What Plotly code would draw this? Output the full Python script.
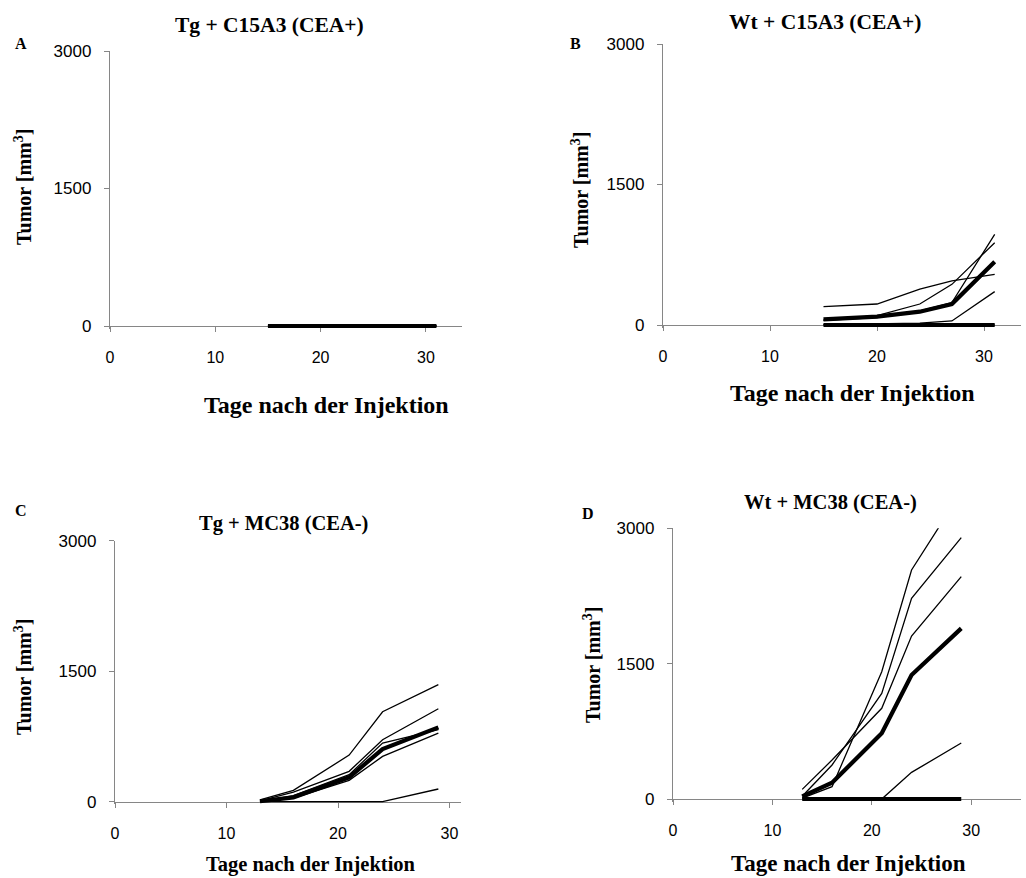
import plotly.graph_objects as go

W, H = 1026, 878

# ---------------- data ----------------
days_A = [15, 20, 24, 27, 31]
A_mice = [
    [0, 0, 0, 0, 0],
    [0, 0, 0, 0, 0],
    [0, 0, 0, 0, 0],
]
A_thick = [
    [0, 0, 0, 0, 0],
]

days_B = [15, 20, 24, 27, 31]
B_mice = [
    [196, 224, 384, 470, 541],
    [55, 100, 224, 434, 879],
    [50, 80, 150, 240, 968],
    [5, 10, 20, 43, 356],
    [0, 0, 0, 0, 0],
]
B_thick = [
    [60, 89, 142, 224, 676],
    [0, 0, 0, 0, 0],
]

days_C = [13, 16, 21, 24, 29]
C_mice = [
    [20, 130, 536, 1034, 1345],
    [10, 110, 349, 713, 1069],
    [0, 70, 310, 674, 828],
    [0, 42, 245, 521, 789],
    [0, 0, 0, 0, 146],
]
C_thick = [
    [5, 50, 280, 605, 854],
]

days_D = [13, 16, 21, 24, 29]
D_mice = [
    [10, 137, 1411, 2538, 3400],
    [107, 432, 1005, 1806, 2464],
    [30, 377, 1171, 2224, 2896],
    [0, 0, 0, 295, 620],
]
D_thick = [
    [30, 180, 728, 1374, 1891],
    [0, 0, 0, 0, 0],
]

titles = ["Tg + C15A3 (CEA+)", "Wt + C15A3 (CEA+)", "Tg + MC38 (CEA-)", "Wt + MC38 (CEA-)"]
letters = ["A", "B", "C", "D"]
y_title = "Tumor [mm<sup>3</sup>]"
x_title = "Tage nach der Injektion"
x_ticks = [0, 10, 20, 30]
y_ticks = [0, 1500, 3000]

# ---------------- layout geometry (pixels) ----------------
panels = [
    dict(days=days_A, mice=A_mice, thick=A_thick, x0=110, ppu=10.53, xmax=33.4, ytop=51, ybot=326,
         title=(269, 25, 21.5), letter=(21, 43), ytitle=(23, 187), xtitle=(326, 405, 24)),
    dict(days=days_B, mice=B_mice, thick=B_thick, x0=663, ppu=10.7, xmax=33.5, ytop=44, ybot=325,
         title=(825, 22, 21.5), letter=(575, 43), ytitle=(580, 190), xtitle=(852, 393, 24)),
    dict(days=days_C, mice=C_mice, thick=C_thick, x0=115, ppu=11.15, xmax=31, ytop=540.7, ybot=801.7,
         title=(283, 523, 20.5), letter=(21, 510), ytitle=(23, 677), xtitle=(311, 864, 20.5)),
    dict(days=days_D, mice=D_mice, thick=D_thick, x0=673, ppu=9.94, xmax=35, ytop=528.3, ybot=799,
         title=(830, 502, 20.5), letter=(588, 513), ytitle=(592, 665), xtitle=(848, 863, 23)),
]

YMIN, YMAX = -30, 3000
AXIS_GRAY = "#868686"
SERIF = "Liberation Serif, Times New Roman, serif"
SANS = "Liberation Sans, Arial, sans-serif"

fig = go.Figure()
layout = dict(
    width=W, height=H,
    margin=dict(l=0, r=0, t=0, b=0, pad=0, autoexpand=False),
    paper_bgcolor="white", plot_bgcolor="white",
    showlegend=False,
    annotations=[],
)

def px_x(p):
    return p / W

def px_y(p):
    return 1 - p / H

for i, p in enumerate(panels):
    n = "" if i == 0 else str(i + 1)
    xa, ya = "x" + n, "y" + n
    for ys in p["mice"]:
        fig.add_trace(go.Scatter(x=p["days"], y=ys, mode="lines", xaxis=xa, yaxis=ya,
                                 line=dict(color="black", width=1.3), hoverinfo="skip"))
    for ys in p["thick"]:
        fig.add_trace(go.Scatter(x=p["days"], y=ys, mode="lines", xaxis=xa, yaxis=ya,
                                 line=dict(color="black", width=4.2), hoverinfo="skip"))

    xr = p["x0"] + p["xmax"] * p["ppu"]
    span = p["ybot"] - p["ytop"]
    ybottom_px = p["ybot"] + (0 - YMIN) * span / (YMAX - 0)
    layout["xaxis" + n] = dict(
        domain=[px_x(p["x0"]), px_x(xr)], range=[0, p["xmax"]],
        anchor="free", position=px_y(p["ybot"]),
        showline=True, linecolor=AXIS_GRAY, linewidth=1.3,
        ticks="outside", ticklen=5, tickcolor=AXIS_GRAY, tickwidth=1.2,
        tickvals=x_ticks, showgrid=False, zeroline=False,
        tickfont=dict(family=SANS, size=16, color="black"),
        ticklabelstandoff=12, automargin=False, layer="below traces",
    )
    layout["yaxis" + n] = dict(
        domain=[px_y(ybottom_px), px_y(p["ytop"])], range=[YMIN, YMAX],
        anchor=xa, showline=True, linecolor=AXIS_GRAY, linewidth=1.3,
        ticks="outside", ticklen=5, tickcolor=AXIS_GRAY, tickwidth=1.2,
        tickvals=y_ticks, showgrid=False, zeroline=False,
        tickfont=dict(family=SANS, size=17, color="black"),
        ticklabelstandoff=9, automargin=False, layer="below traces",
    )
    tx, ty, ts = p["title"]
    layout["annotations"].append(dict(text="<b>%s</b>" % titles[i], x=px_x(tx), y=px_y(ty),
                                      xref="paper", yref="paper", showarrow=False,
                                      xanchor="center", yanchor="middle",
                                      font=dict(family=SERIF, size=ts, color="black")))
    lx, ly = p["letter"]
    layout["annotations"].append(dict(text="<b>%s</b>" % letters[i], x=px_x(lx), y=px_y(ly),
                                      xref="paper", yref="paper", showarrow=False,
                                      xanchor="center", yanchor="middle",
                                      font=dict(family=SERIF, size=16, color="black")))
    yx, yy = p["ytitle"]
    layout["annotations"].append(dict(text="<b>%s</b>" % y_title, x=px_x(yx), y=px_y(yy),
                                      xref="paper", yref="paper", showarrow=False, textangle=-90,
                                      xanchor="center", yanchor="middle",
                                      font=dict(family=SERIF, size=20, color="black")))
    xx, xy, xs = p["xtitle"]
    layout["annotations"].append(dict(text="<b>%s</b>" % x_title, x=px_x(xx), y=px_y(xy),
                                      xref="paper", yref="paper", showarrow=False,
                                      xanchor="center", yanchor="middle",
                                      font=dict(family=SERIF, size=xs, color="black")))

fig.update_layout(**layout)
fig.write_html("out.html")
